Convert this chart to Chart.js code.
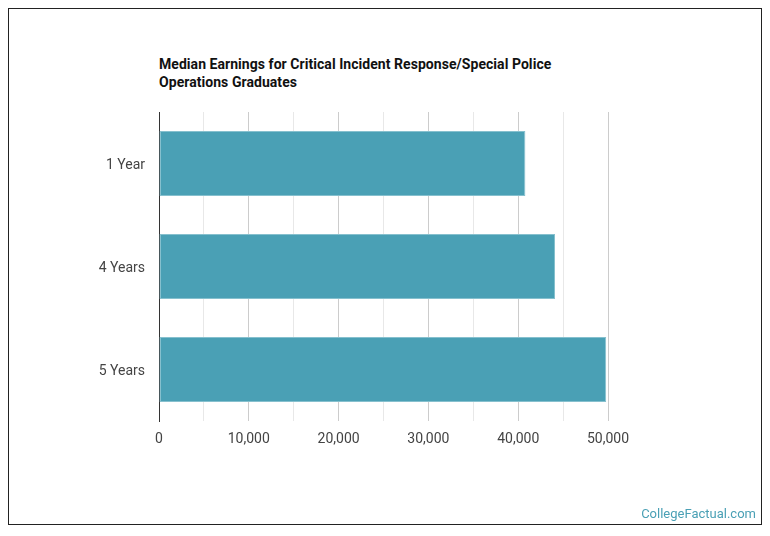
<!DOCTYPE html>
<html>
<head>
<meta charset="utf-8">
<script src="https://cdn.jsdelivr.net/npm/chart.js@4.4.0/dist/chart.umd.min.js"></script>
<style>
  body { margin: 0; background: #fff; font-family: Roboto, sans-serif; }
  #wrap { position: relative; width: 770px; height: 536px; }
  #frame { position: absolute; left: 8px; top: 8px; width: 754px; height: 517px; border: 1px solid #222; box-sizing: border-box; }
  #title { position: absolute; left: 159px; top: 55px; font-size: 14px; font-weight: bold; line-height: 18px; color: #111; letter-spacing: 0.05px; }
  #brand { position: absolute; right: 14px; top: 506px; font-size: 13px; color: #4aa0b5; }
  canvas { position: absolute; left: 0; top: 0; }
</style>
</head>
<body>
<div id="wrap">
  <div id="frame"></div>
  <div id="title">Median Earnings for Critical Incident Response/Special Police<br>Operations Graduates</div>
  <canvas id="dataChart" width="770" height="536"></canvas>
  <div id="brand">CollegeFactual.com</div>
</div>
<script>
var categories = ['1 Year', '4 Years', '5 Years'];
var earnings = [40800, 44100, 49800];
var tickValues = [0, 10000, 20000, 30000, 40000, 50000];

var ctx = document.getElementById('dataChart').getContext('2d');
var dataChart = new Chart(ctx, {
    type: 'bar',
    data: {
        labels: categories,
        datasets: [{
            label: 'Median Earnings',
            data: earnings,
            backgroundColor: '#4aa0b5',
            borderColor: '#86c0ce',
            borderWidth: 1,
            borderSkipped: false,
            barPercentage: 0.63,
            categoryPercentage: 1
        }]
    },
    options: {
        indexAxis: 'y',
        responsive: false,
        animation: false,
        layout: { padding: { left: 0, top: 112, right: 162, bottom: 85 } },
        plugins: { legend: { display: false }, tooltip: { enabled: false } },
        scales: {
            x: {
                min: 0,
                max: 50000,
                afterFit: function(scale) { scale.height = 30; },
                afterBuildTicks: function(scale) {
                    // gridlines every 5,000, labels only every 10,000
                    var t = [];
                    for (var v = 0; v <= 50000; v += 5000) t.push({ value: v });
                    scale.ticks = t;
                },
                grid: {
                    drawTicks: false,
                    color: function(c) {
                        return c.tick && c.tick.value % 10000 === 0 ? '#cccccc' : '#e8e8e8';
                    }
                },
                border: { display: false },
                ticks: {
                    autoSkip: false,
                    maxRotation: 0,
                    padding: 10,
                    color: '#444',
                    font: { family: 'Roboto', size: 14 },
                    callback: function(v) {
                        return tickValues.indexOf(v) >= 0 ? v.toLocaleString('en-US') : '';
                    }
                }
            },
            y: {
                afterFit: function(scale) { scale.width = 159; },
                grid: { display: false },
                border: { display: true, color: '#333', width: 1 },
                ticks: {
                    padding: 6,
                    labelOffset: 2,
                    color: '#444',
                    font: { family: 'Roboto', size: 14 }
                }
            }
        }
    }
});
</script>
</body>
</html>
